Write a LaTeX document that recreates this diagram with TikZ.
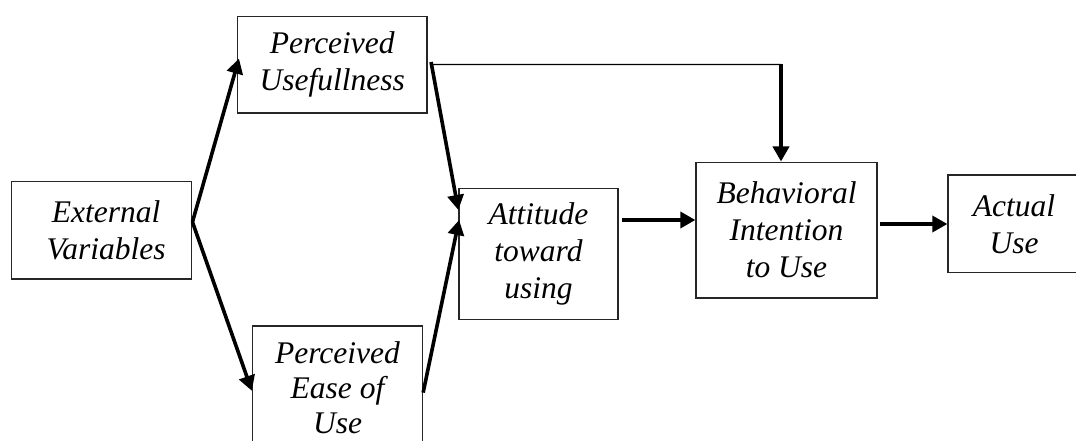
\documentclass[tikz,border=0pt]{standalone}
\usepackage{fontspec}
\setmainfont{Liberation Serif}[ItalicFont={Liberation Serif Italic}]
\usetikzlibrary{arrows.meta}
\begin{document}
\begin{tikzpicture}[x=1pt,y=-1pt,
  box/.style={draw=black!85,line width=1.3pt,inner sep=0pt,align=center,
    font=\itshape\fontsize{31.5}{37}\selectfont},
  arr/.style={line width=3.6pt,-{Triangle[length=15pt,width=16pt]}},
  thinline/.style={line width=1.3pt}]
\useasboundingbox (0,0) rectangle (1076,441);
\node[box,minimum width=180.4pt,minimum height=97.2pt] (ev) at (101.6,230.4) {\hspace*{9pt}External\\\hspace*{9pt}Variables};
\node[box,minimum width=189.4pt,minimum height=96.8pt] (pu) at (332.3,64.6) {Perceived\\Usefullness};
\node[box,minimum width=170pt,minimum height=124pt,font=\itshape\fontsize{31.5}{35}\selectfont] (peou) at (337.5,388) {Perceived\\Ease of\\Use};
\node[box,minimum width=159pt,minimum height=131pt] (att) at (538.5,254) {Attitude\\toward\\using};
\node[box,minimum width=181pt,minimum height=135.7pt] (bi) at (786.5,230) {Behavioral\\Intention\\to Use};
\node[box,minimum width=132pt,minimum height=97.6pt] (act) at (1014,223.8) {Actual\\Use};
\coordinate (bend) at (781,64.5);
% connectors
\draw[arr] ([yshift=8.4pt]ev.east) -- ([yshift=-2.8pt]peou.west);
\draw[arr] ([yshift=8.4pt]ev.east) -- ([xshift=2pt,yshift=6pt]pu.west);
\draw[arr] ([xshift=3.4pt,yshift=2.6pt]pu.east) -- ([yshift=44pt]att.west);
\draw[arr] ([yshift=-4.6pt]peou.east) -- ([xshift=0.7pt,yshift=34pt]att.west);
\draw[thinline] ([xshift=3pt]pu.east) -- (bend);
\draw[arr] (bend) -- (bend |- bi.north);
\path ([xshift=3pt,yshift=34pt]att.east) coordinate (a1);
\draw[arr] (a1) -- (a1 -| bi.west);
\path ([xshift=2pt,yshift=6pt]bi.east) coordinate (b1);
\draw[arr] (b1) -- (b1 -| act.west);
\end{tikzpicture}
\end{document}
